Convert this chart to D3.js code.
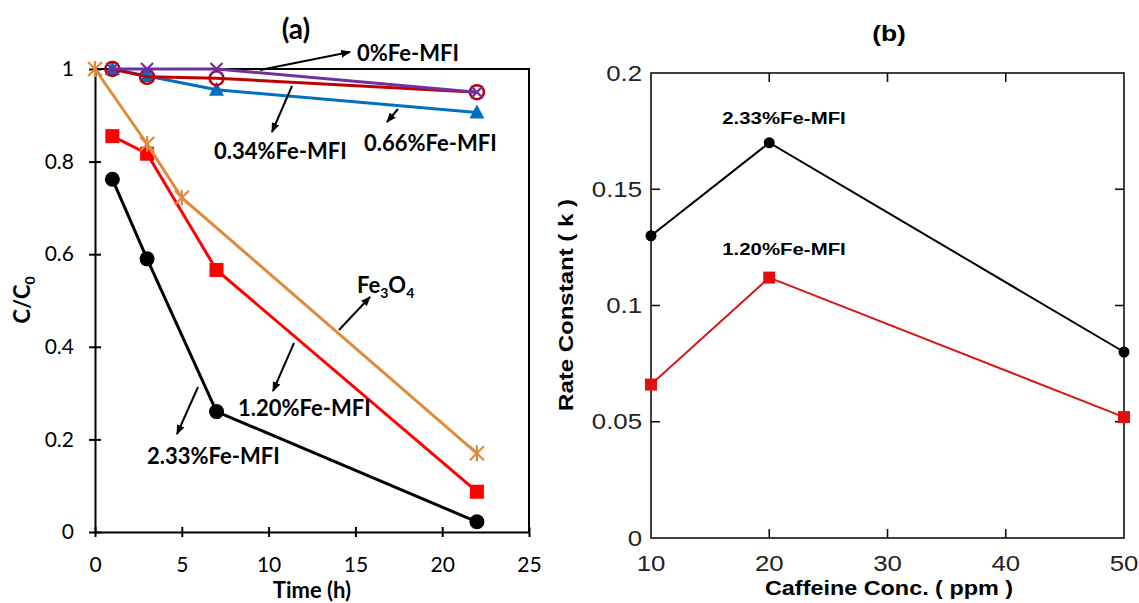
<!DOCTYPE html>
<html><head><meta charset="utf-8">
<script src="https://cdn.jsdelivr.net/npm/d3@7"></script>
<style>
body{margin:0;background:#fff;}
svg{display:block;}
</style></head>
<body>
<svg id="chart" width="1139" height="603"></svg>
<script>
// ---------- Panel (a) data ----------
const timeA = [1, 3, 7, 22];
const timeFe3O4 = [0, 3, 5, 22];
const fe0 = [1, 1, 1, 0.95];
const fe034 = [1, 0.983, 0.98, 0.95];
const fe066 = [1, 0.985, 0.955, 0.906];
const fe3o4 = [1, 0.838, 0.722, 0.17];
const fe120 = [0.855, 0.817, 0.566, 0.087];
const fe233 = [0.762, 0.59, 0.26, 0.022];
const xTicksA = [0, 5, 10, 15, 20, 25];
const yTicksA = [0, 0.2, 0.4, 0.6, 0.8, 1];

// ---------- Panel (b) data ----------
const conc = [10, 20, 50];
const k233 = [0.13, 0.17, 0.08];
const k120 = [0.066, 0.112, 0.052];
const xTicksB = [10, 20, 30, 40, 50];
const yTicksB = [0, 0.05, 0.1, 0.15, 0.2];

const svg = d3.select("#chart");
const defs = svg.append("defs");
defs.append("marker").attr("id","arr").attr("viewBox","0 0 10 8")
  .attr("refX",9).attr("refY",4).attr("markerWidth",10).attr("markerHeight",8)
  .attr("markerUnits","userSpaceOnUse").attr("orient","auto")
  .append("path").attr("d","M0,0 L10,4 L0,8 Z").attr("fill","#000");

// ================= Panel (a) =================
const fA = "Lato, 'Open Sans', sans-serif";
const xA = d3.scaleLinear().domain([0,25]).range([95,529]);
const yA = d3.scaleLinear().domain([0,1]).range([532,69]);
const gA = svg.append("g");

gA.append("path").attr("d",`M${xA(0)},${yA(1)}H${xA(25)}V${yA(0)}`)
  .attr("fill","none").attr("stroke","#000").attr("stroke-width",2);

const axA = gA.append("g").attr("transform",`translate(0,${yA(0)})`)
  .call(d3.axisBottom(xA).tickValues(xTicksA).tickSizeInner(5).tickSizeOuter(0).tickPadding(20).tickFormat(d3.format("d")));
axA.select(".domain").attr("stroke-width",2);
axA.selectAll(".tick line").attr("y1",-5).attr("y2",5).attr("stroke-width",2);
axA.selectAll(".tick text").attr("font-family",fA).attr("font-size",21).attr("fill","#000");

const ayA = gA.append("g").attr("transform",`translate(${xA(0)},0)`)
  .call(d3.axisLeft(yA).tickValues(yTicksA).tickSizeInner(6).tickSizeOuter(0).tickPadding(15).tickFormat(d=>d===0||d===1?String(d):d3.format(".1f")(d)));
ayA.select(".domain").attr("stroke-width",2);
ayA.selectAll(".tick line").attr("x1",-6).attr("x2",6).attr("stroke-width",2);
ayA.selectAll(".tick text").attr("font-family",fA).attr("font-size",21).attr("fill","#000");

const lineA = d3.line().x(d=>xA(d[0])).y(d=>yA(d[1]));
function seriesA(xs, ys, color, marker){
  const pts = xs.map((x,i)=>[x,ys[i]]);
  gA.append("path").datum(pts).attr("d",lineA).attr("fill","none")
    .attr("stroke",color).attr("stroke-width",3);
  const g = gA.append("g");
  pts.forEach(p=>{
    const cx = xA(p[0]), cy = yA(p[1]);
    if(marker==="circle"){
      g.append("circle").attr("cx",cx).attr("cy",cy).attr("r",7.5).attr("fill",color);
    } else if(marker==="ocircle"){
      g.append("circle").attr("cx",cx).attr("cy",cy).attr("r",7).attr("fill","none").attr("stroke",color).attr("stroke-width",2.5);
    } else if(marker==="square"){
      g.append("rect").attr("x",cx-7).attr("y",cy-7).attr("width",14).attr("height",14).attr("fill",color);
    } else if(marker==="tri"){
      g.append("path").attr("d",`M${cx},${cy-8}L${cx+7.5},${cy+6}L${cx-7.5},${cy+6}Z`).attr("fill",color);
    } else if(marker==="star"){
      g.append("path").attr("d",`M${cx-7},${cy-7}L${cx+7},${cy+7}M${cx+7},${cy-7}L${cx-7},${cy+7}M${cx},${cy-8}V${cy+8}`)
        .attr("stroke",color).attr("stroke-width",2.2).attr("fill","none");
    } else if(marker==="x"){
      g.append("path").attr("d",`M${cx-6},${cy-6}L${cx+6},${cy+6}M${cx+6},${cy-6}L${cx-6},${cy+6}`)
        .attr("stroke",color).attr("stroke-width",2.2).attr("fill","none");
    }
  });
}
seriesA(timeA, fe233, "#000000", "circle");
seriesA(timeA, fe120, "#ff0000", "square");
seriesA(timeFe3O4, fe3o4, "#e08a3e", "star");
seriesA(timeA, fe066, "#0070c0", "tri");
seriesA(timeA, fe034, "#c00000", "ocircle");
seriesA(timeA, fe0, "#7030a0", "x");

const annA = [
  {t:"0%Fe-MFI", x:357, y:61, a:[260,70,350,52]},
  {t:"0.34%Fe-MFI", x:214, y:159, a:[292,86,272,132]},
  {t:"0.66%Fe-MFI", x:364, y:151, a:[398,109,387,122]},
  {t:"1.20%Fe-MFI", x:238, y:416, a:[294,343,273,391]},
  {t:"2.33%Fe-MFI", x:147, y:464, a:[198,387,177,434]}
];
annA.forEach(d=>{
  gA.append("line").attr("x1",d.a[0]).attr("y1",d.a[1]).attr("x2",d.a[2]).attr("y2",d.a[3])
    .attr("stroke","#000").attr("stroke-width",2).attr("marker-end","url(#arr)");
  gA.append("text").attr("x",d.x).attr("y",d.y).attr("font-family",fA).attr("font-weight","bold")
    .attr("font-size",22).text(d.t);
});
gA.append("line").attr("x1",339).attr("y1",330).attr("x2",370).attr("y2",297)
  .attr("stroke","#000").attr("stroke-width",2).attr("marker-end","url(#arr)");
const feT = gA.append("text").attr("x",357).attr("y",293).attr("font-family",fA).attr("font-weight","bold").attr("font-size",22);
feT.append("tspan").text("Fe");
feT.append("tspan").attr("font-size",14).attr("dy",5).text("3");
feT.append("tspan").attr("dy",-5).text("O");
feT.append("tspan").attr("font-size",14).attr("dy",5).text("4");

gA.append("text").attr("x",296).attr("y",39).attr("text-anchor","middle").attr("font-family",fA)
  .attr("font-weight","bold").attr("font-size",28).text("(a)");
gA.append("text").attr("x",312).attr("y",598).attr("text-anchor","middle").attr("font-family",fA)
  .attr("font-weight","bold").attr("font-size",22).text("Time (h)");
const cc = gA.append("text").attr("transform","translate(30,300) rotate(-90)").attr("text-anchor","middle")
  .attr("font-family",fA).attr("font-weight","bold").attr("font-size",22);
cc.append("tspan").text("C/C");
cc.append("tspan").attr("font-size",14).attr("dy",5).text("0");

// ================= Panel (b) =================
const fB = "'Liberation Sans', Arial, sans-serif";
const xB = d3.scaleLinear().domain([10,50]).range([651,1124]);
const yB = d3.scaleLinear().domain([0,0.2]).range([538,73]);
const gB = svg.append("g");
const SX = 1.2;

gB.append("rect").attr("x",xB(10)).attr("y",yB(0.2)).attr("width",xB(50)-xB(10)).attr("height",yB(0)-yB(0.2))
  .attr("fill","none").attr("stroke","#111").attr("stroke-width",1.6);

const innerX = xTicksB.filter(d=>d>10 && d<50);
const innerY = yTicksB.filter(d=>d>0 && d<0.2);
innerX.forEach(d=>{
  gB.append("line").attr("x1",xB(d)).attr("x2",xB(d)).attr("y1",yB(0)).attr("y2",yB(0)-9).attr("stroke","#111").attr("stroke-width",1.6);
  gB.append("line").attr("x1",xB(d)).attr("x2",xB(d)).attr("y1",yB(0.2)).attr("y2",yB(0.2)+9).attr("stroke","#111").attr("stroke-width",1.6);
});
innerY.forEach(d=>{
  gB.append("line").attr("y1",yB(d)).attr("y2",yB(d)).attr("x1",xB(10)).attr("x2",xB(10)+9).attr("stroke","#111").attr("stroke-width",1.6);
  gB.append("line").attr("y1",yB(d)).attr("y2",yB(d)).attr("x1",xB(50)).attr("x2",xB(50)-9).attr("stroke","#111").attr("stroke-width",1.6);
});
xTicksB.forEach(d=>{
  gB.append("text").attr("transform",`translate(${xB(d)},${yB(0)+33}) scale(${SX},1)`).attr("text-anchor","middle")
    .attr("font-family",fB).attr("font-size",21.5).attr("fill","#222").text(d);
});
yTicksB.forEach(d=>{
  gB.append("text").attr("transform",`translate(${xB(10)-9},${yB(d)+7.5}) scale(${SX},1)`).attr("text-anchor","end")
    .attr("font-family",fB).attr("font-size",21.5).attr("fill","#222").text(d===0?"0":String(d));
});

const lineB = d3.line().x(d=>xB(d[0])).y(d=>yB(d[1]));
const p233 = conc.map((c,i)=>[c,k233[i]]);
const p120 = conc.map((c,i)=>[c,k120[i]]);
gB.append("path").datum(p233).attr("d",lineB).attr("fill","none").attr("stroke","#000").attr("stroke-width",2);
gB.append("path").datum(p120).attr("d",lineB).attr("fill","none").attr("stroke","#d41a1a").attr("stroke-width",2);
gB.selectAll("circle.k").data(p233).enter().append("circle").attr("cx",d=>xB(d[0])).attr("cy",d=>yB(d[1])).attr("r",5.5).attr("fill","#000");
gB.selectAll("rect.k").data(p120).enter().append("rect").attr("x",d=>xB(d[0])-6).attr("y",d=>yB(d[1])-6)
  .attr("width",12).attr("height",12).attr("fill","#e01010");

gB.append("text").attr("transform",`translate(784,124) scale(${SX},1)`).attr("text-anchor","middle")
  .attr("font-family",fB).attr("font-weight","bold").attr("font-size",17).text("2.33%Fe-MFI");
gB.append("text").attr("transform",`translate(784,255) scale(${SX},1)`).attr("text-anchor","middle")
  .attr("font-family",fB).attr("font-weight","bold").attr("font-size",17).text("1.20%Fe-MFI");
gB.append("text").attr("transform",`translate(889,41) scale(${SX},1)`).attr("text-anchor","middle")
  .attr("font-family",fB).attr("font-weight","bold").attr("font-size",22).text("(b)");
gB.append("text").attr("transform",`translate(889,595) scale(${SX},1)`).attr("text-anchor","middle")
  .attr("font-family",fB).attr("font-weight","bold").attr("font-size",19.5).text("Caffeine Conc. ( ppm )");
gB.append("text").attr("transform",`translate(573,305) rotate(-90) scale(${SX},1)`).attr("text-anchor","middle")
  .attr("font-family",fB).attr("font-weight","bold").attr("font-size",20).text("Rate Constant ( k )");
</script>
</body></html>
